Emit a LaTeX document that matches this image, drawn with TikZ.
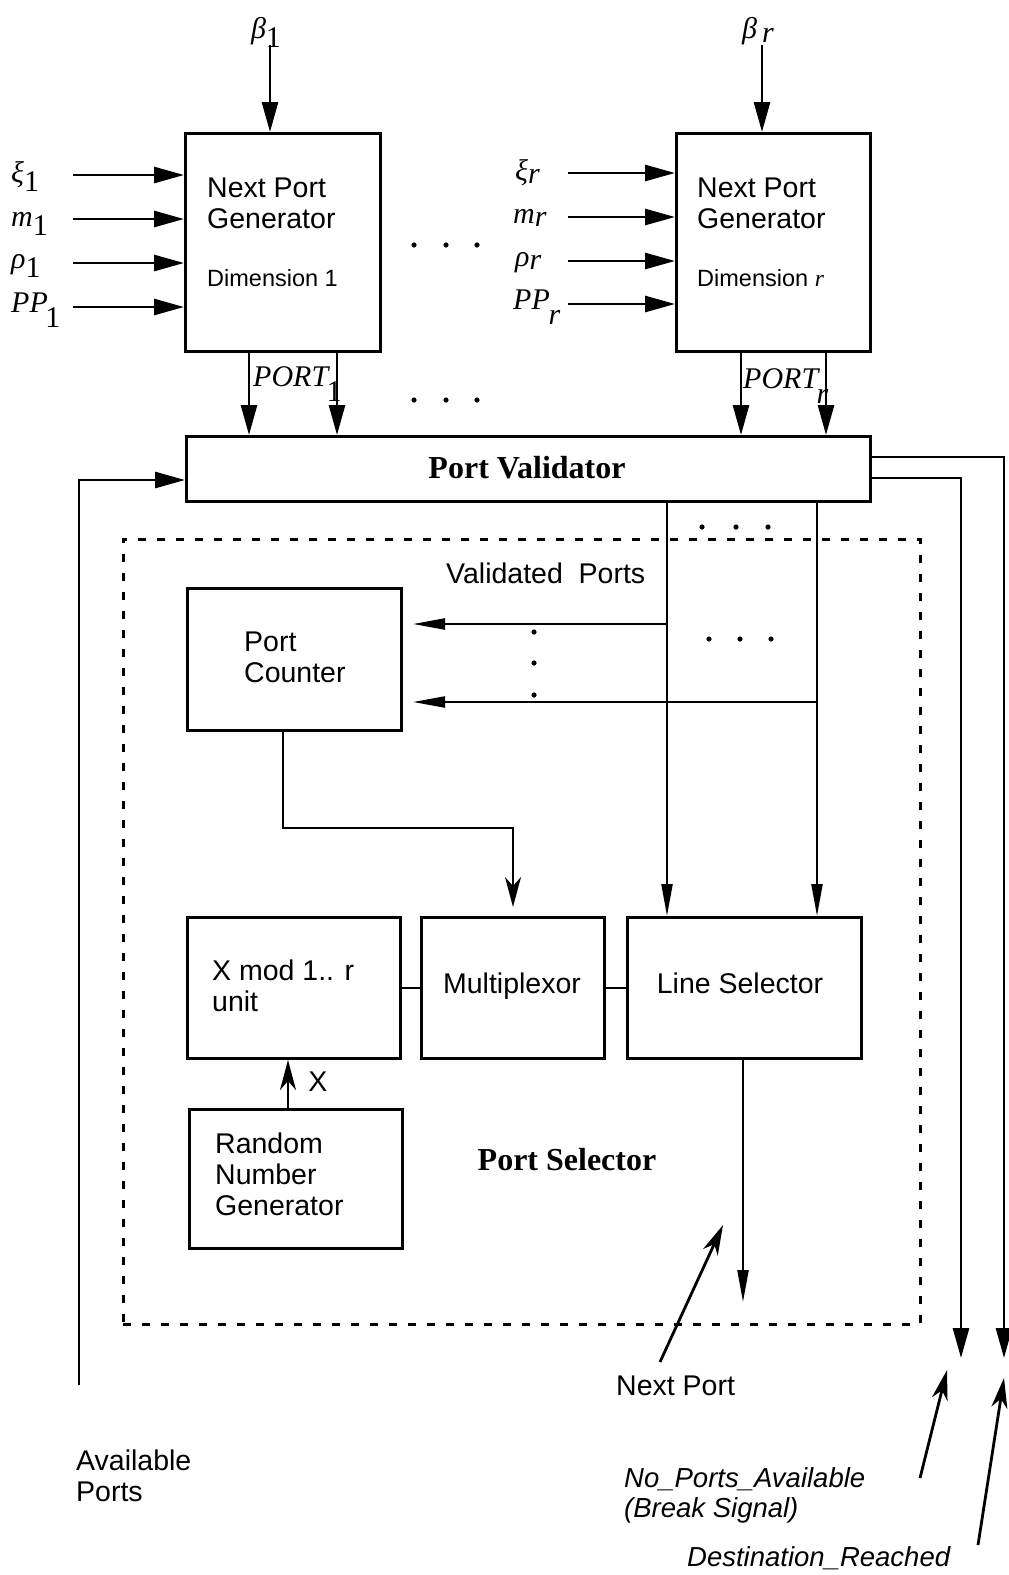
\documentclass[tikz,border=0pt]{standalone}
\usepackage{fontspec}
\setmainfont{Liberation Sans}
\newfontfamily\tm{Liberation Serif}
\usetikzlibrary{arrows.meta}

% italic symbol with a lowered index
\newcommand\tsub[3][0.3em]{{\tm\itshape #2}\raisebox{-#1}{\tm #3}}

\tikzset{
  box/.style={draw, line width=3pt, inner sep=0pt, anchor=north west},
  wire/.style={line width=2.8pt},
  thinwire/.style={line width=2.2pt},
  bigarr/.style={wire, -{Triangle[length=30pt,width=16pt]}},
  thinarr/.style={thinwire, -{Triangle[length=32pt,width=11pt]}},
  barbarr/.style={wire, -{Stealth[length=30pt,width=16pt,inset=9pt]}},
  sans/.style={font=\fontsize{28.5pt}{31pt}\selectfont, inner sep=0pt, align=left},
  smallsans/.style={font=\fontsize{23.5pt}{26pt}\selectfont, inner sep=0pt},
  itsans/.style={font=\fontsize{27.5pt}{30pt}\selectfont\itshape, inner sep=0pt, align=left},
  boldser/.style={font=\fontsize{32pt}{36pt}\selectfont\tm\bfseries, inner sep=0pt},
  sym/.style={font=\fontsize{30pt}{32pt}\selectfont, inner sep=0pt, anchor=base west},
  dot/.style={radius=2.6pt},
}

\begin{document}
\begin{tikzpicture}[x=1pt,y=-1pt]
\useasboundingbox (0,0) rectangle (1009,1575);
\fill[white] (0,0) rectangle (1009,1575);

% ---- next port generators ----
\node[box, minimum width=195pt, minimum height=218pt] (npg1) at (184,132) {};
\node[box, minimum width=194pt, minimum height=218pt] (npgr) at (675,132) {};
\node[sans, anchor=west] (npg1t) at (207,203) {Next Port\\Generator};
\node[smallsans, anchor=west] (npg1d) at (207,278) {Dimension 1};
\node[sans, anchor=west] (npgrt) at (697,203) {Next Port\\Generator};
\node[smallsans, anchor=west] (npgrd) at (697,278) {Dimension {\tm\itshape r}};

% beta inputs
\node[sym, anchor=base] (b1) at (266,38) {\tsub{β}{1}};
\node[sym, anchor=base] (br) at (758,38) {\tsub[0.15em]{β}{\,\itshape r}};
\coordinate (b1s) at (270,45);
\coordinate (brs) at (762,45);
\draw[bigarr] (b1s) -- (b1s |- npg1.north);
\draw[bigarr] (brs) -- (brs |- npgr.north);

% left-hand inputs, dimension 1
\node[sym] (xi1) at (11,182) {\tsub{ξ}{1}};
\node[sym] (m1) at (11,226) {\tsub{m}{1}};
\node[sym] (rho1) at (11,268) {\tsub{ρ}{1}};
\node[sym] (pp1) at (11,312) {{\tm\itshape PP}\kern-0.08em\raisebox{-0.5em}{\tm 1}};
\foreach \y/\n in {175/a,219/b,263/c,307/d}{
  \coordinate (i1\n) at (73,\y);
  \draw[bigarr] (i1\n) -- (i1\n -| npg1.west);
}
% left-hand inputs, dimension r
\node[sym] (xir) at (515,180) {\tsub[0.12em]{ξ}{\itshape r}};
\node[sym] (mr) at (513,223) {\tsub[0.12em]{m}{\itshape r}};
\node[sym] (rhor) at (515,266) {\tsub[0.12em]{ρ}{\itshape r}};
\node[sym] (ppr) at (513,309) {{\tm\itshape PP}\kern-0.04em\raisebox{-0.5em}{\tm\itshape r}};
\foreach \y/\n in {173/a,217/b,261/c,304/d}{
  \coordinate (ir\n) at (568,\y);
  \draw[bigarr] (ir\n) -- (ir\n -| npgr.west);
}

% dots between the two generators
\foreach \x in {414,446,477}{
  \fill (\x,245) circle[dot];
  \fill (\x,400) circle[dot];
}

% ---- port validator ----
\node[box, minimum width=684pt, minimum height=65pt] (pv) at (185,435) {};
\node[boldser] (pvt) at (527,468) {Port Validator};

% PORT outputs into the validator
\foreach \x in {249,337}{\draw[bigarr] (\x,0 |- npg1.south) -- (\x,0 |- pv.north);}
\foreach \x in {741,826}{\draw[bigarr] (\x,0 |- npgr.south) -- (\x,0 |- pv.north);}
\node[sym] (port1) at (253,386) {{\tm\itshape PORT}\kern-0.05em\raisebox{-0.5em}{\tm 1}};
\node[sym] (portr) at (743,388) {{\tm\itshape PORT}\kern-0.05em\raisebox{-0.5em}{\tm\itshape r}};

% available ports feedback
\coordinate (avail) at (79,1385);
\draw[bigarr] (avail) |- (pv.west |- 0,480);
\node[sans, anchor=north west] (availt) at (76,1450) {Available\\Ports};

% break signal and destination outputs
\coordinate (nosig) at (961,1358);
\coordinate (dsig) at (1004,1358);
\draw[bigarr] (pv.east |- 0,478) -| (nosig);
\draw[bigarr] (pv.east |- 0,457) -| (dsig);

% ---- port selector ----
\node[box, dashed, dash pattern=on 8pt off 11pt, line width=2.6pt,
      minimum width=797pt, minimum height=785pt] (sel) at (122,538) {};
\node[boldser] (selt) at (567,1160) {Port Selector};

\foreach \x in {702,736,768}{\fill (\x,527) circle[dot];}

\node[sans, anchor=west] (vpt) at (446,573) {Validated\ \ Ports};

\node[box, minimum width=214pt, minimum height=142pt] (pc) at (186,587) {};
\node[sans, anchor=west] (pct) at (244,657) {Port\\Counter};

\node[box, minimum width=213pt, minimum height=141pt] (xm) at (186,916) {};
\node[sans, anchor=west] (xmt) at (212,986) {X mod 1.. r\\unit};
\node[box, minimum width=183pt, minimum height=141pt] (mux) at (420,916) {};
\node[sans] (muxt) at (512,986) {Multiplexor};
\node[box, minimum width=234pt, minimum height=141pt] (ls) at (626,916) {};
\node[sans] (lst) at (740,983) {Line Selector};
\node[box, minimum width=213pt, minimum height=139pt] (rng) at (188,1108) {};
\node[sans, anchor=west] (rngt) at (215,1174) {Random\\Number\\Generator};

% validated port lines
\coordinate (v1) at (667,500);
\coordinate (v2) at (817,500);
\draw[thinarr] (v1) -- (v1 |- ls.north);
\draw[thinarr] (v2) -- (v2 |- ls.north);
\coordinate (h1) at (667,624);
\coordinate (h2) at (817,702);
\draw[thinarr, shorten >=10pt] (h1) -- (h1 -| pc.east);
\draw[thinarr, shorten >=10pt] (h2) -- (h2 -| pc.east);
\foreach \y in {632,663,695}{\fill (534,\y) circle[dot];}
\foreach \x in {709,740,771}{\fill (\x,639) circle[dot];}

% counter to multiplexor
\draw[barbarr, thinwire, shorten >=9pt] (283,0 |- pc.south) |- (513,828) -- (513,0 |- mux.north);

% links between the selector blocks
\draw[wire] (xm.east) -- (mux.west);
\draw[wire] (mux.east) -- (ls.west);

% random number into the mod unit
\draw[barbarr, thinwire] (288,0 |- rng.north) -- (288,0 |- xm.south);
\node[sans] (xt) at (318,1082) {X};

% next port output
\coordinate (npout) at (743,1302);
\draw[thinarr] (743,0 |- ls.south) -- (npout);

% ---- labels with pointers ----
\node[sans, anchor=west] (npt) at (616,1386) {Next Port};
\coordinate (npp) at (660,1362);
\coordinate (npq) at (723,1225);
\draw[barbarr] (npp) -- (npq);

\node[itsans, anchor=north west] (nopt) at (624,1467) {No\_Ports\_Available\\(Break Signal)};
\coordinate (nop) at (920,1478);
\coordinate (noq) at (947,1370);
\draw[barbarr] (nop) -- (noq);

\node[itsans, anchor=west] (dst) at (687,1558) {Destination\_Reached};
\coordinate (dp) at (978,1545);
\coordinate (dq) at (1004,1378);
\draw[barbarr] (dp) -- (dq);
\end{tikzpicture}
\end{document}
